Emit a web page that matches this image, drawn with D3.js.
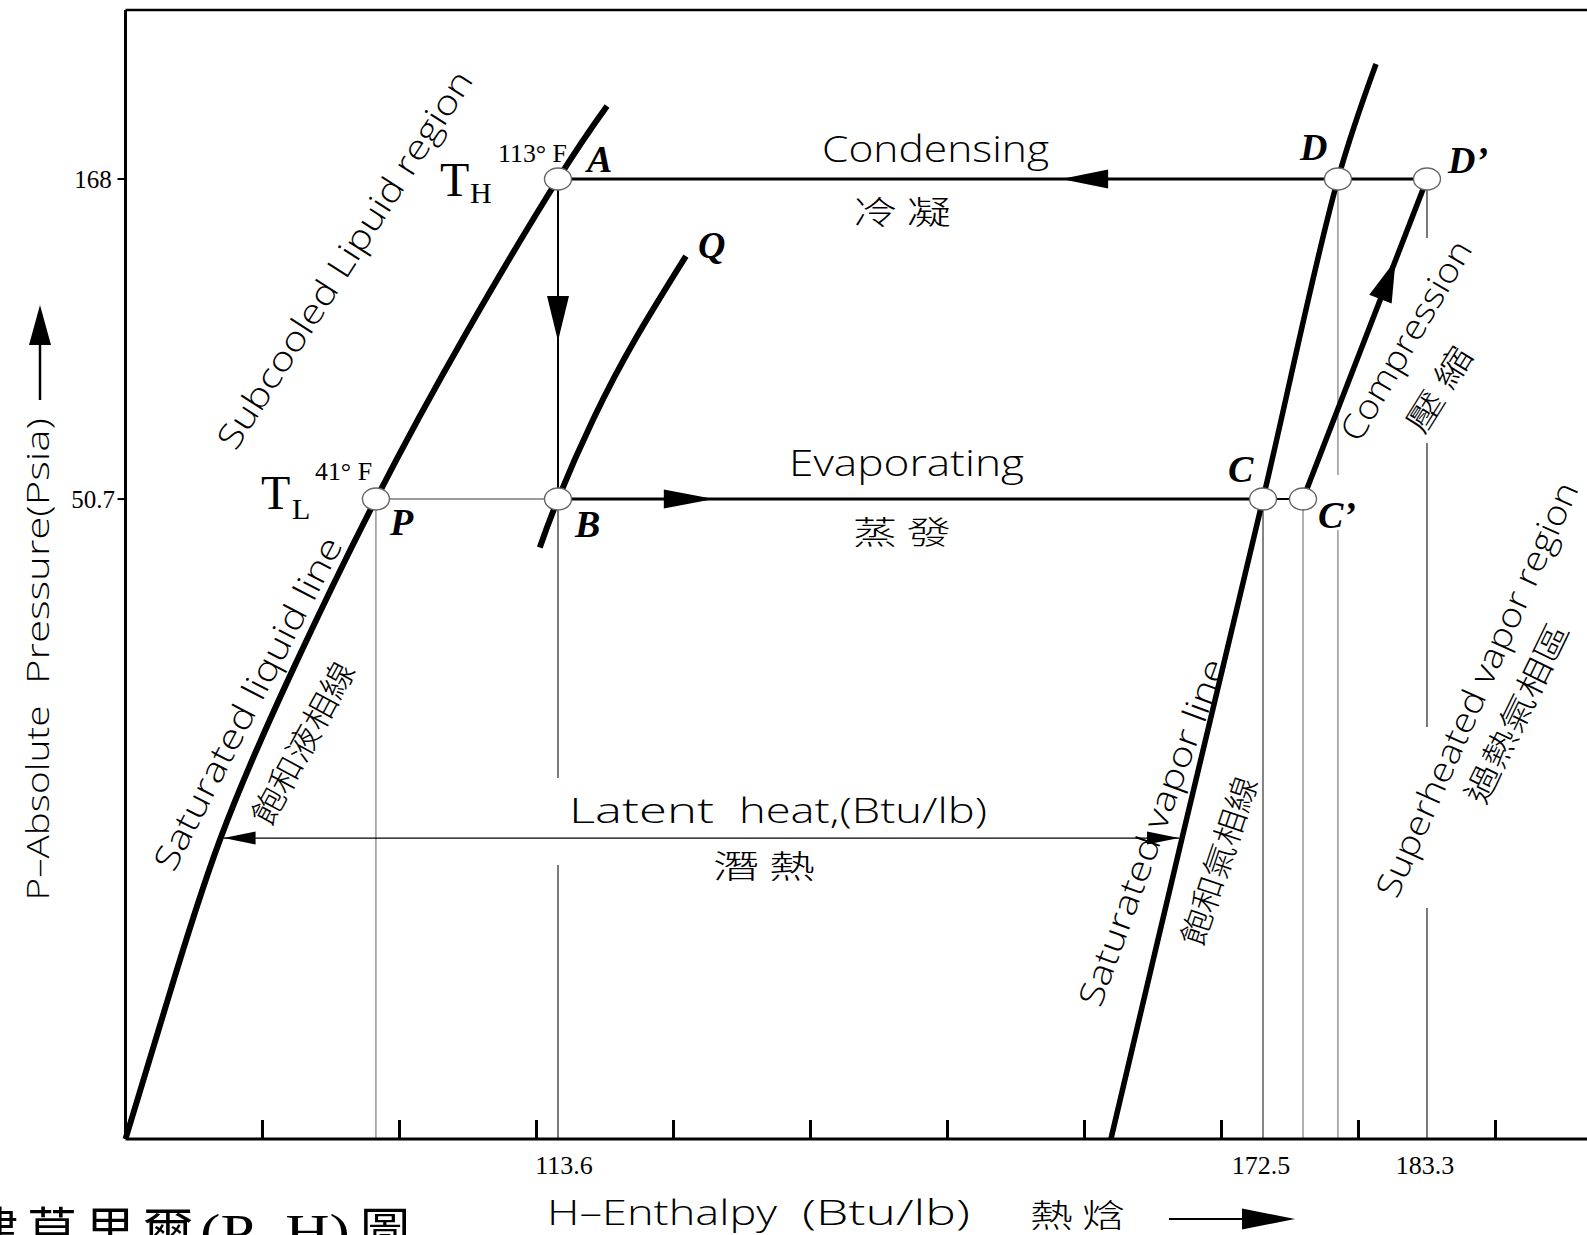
<!DOCTYPE html>
<html><head><meta charset="utf-8">
<script src="https://cdn.jsdelivr.net/npm/d3@7"></script>
<style>body{margin:0;background:#fff;overflow:hidden} svg{display:block}</style>
</head><body>
<svg id="c" width="1587" height="1235"></svg>
<script>
// ---------------- data ----------------
// x is in diagram enthalpy units (one unit per unlabeled tick); y is pressure in psia (log)
const xTickUnits = [1, 2, 3, 4, 5, 6, 7, 8, 9, 10];
const yTickValues = [168, 50.7];
const yTickLabels = ["168", "50.7"];
const enthalpyMarks = [3.157, 8.303, 9.500];
const enthalpyLabels = ["113.6", "172.5", "183.3"];

const stateNames = ["A", "B", "P", "C", "C'", "D", "D'"];
const stateH = [3.157, 3.157, 1.828, 8.303, 8.595, 8.850, 9.500];
const stateP = [168, 50.7, 50.7, 50.7, 50.7, 168, 168];

const satLiquidH = [0, 0.303, 0.694, 1.226, 1.828, 2.482, 3.157, 3.515];
const satLiquidP = [4.62, 7.71, 14.25, 26.9, 50.7, 94.0, 168, 220.8];
const qLineH = [3.024, 3.157, 3.415, 3.722, 4.091];
const qLineP = [42.3, 50.7, 68.4, 92.3, 125.9];
const satVaporH = [7.193, 7.712, 8.303, 8.850, 9.128];
const satVaporP = [4.62, 14.25, 50.7, 168, 258.4];
const latentP = 14.25;
const latentH = [0.694, 7.712];

// arrow tip positions as fraction along process segments
const arrowSegs = [["D'", "A"], ["A", "B"], ["B", "C"], ["C'", "D'"]];
const arrowFrac = [0.421, 0.506, 0.221, 0.747];

(function () {
// ---------------- scales ----------------
const PW = 1587;
const xLeft = 125.5, yBottom = 1139, yTop = 10;
const xs = d3.scaleLinear().domain([0, 10.668]).range([xLeft, PW]);
const ys = d3.scaleLog().domain([4.62, 316.3]).range([yBottom, yTop]);

const svg = d3.select("#c");
const g = svg.append("g");
const S = {};
stateNames.forEach((n, i) => S[n] = [xs(stateH[i]), ys(stateP[i])]);

function tri(tip, ang, L, Wd) {
  const bx = tip[0] - L * Math.cos(ang), by = tip[1] - L * Math.sin(ang);
  const nx = -Math.sin(ang) * Wd, ny = Math.cos(ang) * Wd;
  return `M${tip[0]},${tip[1]}L${bx + nx},${by + ny}L${bx - nx},${by - ny}Z`;
}
function seg(x1, y1, x2, y2, w, c) {
  g.append("line").attr("x1", x1).attr("y1", y1).attr("x2", x2).attr("y2", y2)
    .attr("stroke", c || "#000").attr("stroke-width", w);
}

// ---------------- thin construction lines ----------------
const thinGray = "#7a7a7a";
seg(S.P[0], S.P[1], S.P[0], yBottom, 1.2, thinGray);
seg(S.B[0], S.B[1], S.B[0], ys(latentP) - 60, 1.2, "#222");
seg(S.B[0], ys(latentP) + 27, S.B[0], yBottom, 1.2, "#222");
seg(S.C[0], S.C[1], S.C[0], yBottom, 1.2, "#333");
seg(S["C'"][0], S["C'"][1], S["C'"][0], yBottom, 1.2, thinGray);
seg(S.D[0], S.D[1], S.D[0], 475, 1.2, thinGray);
seg(S.D[0], 530, S.D[0], yBottom, 1.2, thinGray);
seg(S["D'"][0], S["D'"][1], S["D'"][0], 238, 1.2, "#222");
seg(S["D'"][0], 443, S["D'"][0], 727, 1.2, "#222");
seg(S["D'"][0], 908, S["D'"][0], yBottom, 1.2, "#222");
seg(S.P[0], S.P[1], S.B[0], S.B[1], 1.5, thinGray);

// ---------------- frame & axes ----------------
seg(xLeft, yTop, PW, yTop, 2.5);
seg(xLeft, yTop, xLeft, yBottom, 3);
seg(xLeft, yBottom, PW, yBottom, 3);
xTickUnits.forEach(u => seg(xs(u), yBottom, xs(u), yBottom - 19, 3));
yTickValues.forEach(v => seg(xLeft - 8, ys(v), xLeft, ys(v), 2));

const serif = "'Liberation Serif','DejaVu Serif',serif";
const sans = "'Open Sans','DejaVu Sans',sans-serif";
const cjk = "'Noto Sans CJK TC','Noto Sans CJK SC',sans-serif";

function txt(s, x, y, o) {
  const t = g.append("text").attr("x", x).attr("y", y).text(s)
    .attr("font-family", o.f || sans).attr("font-size", o.s || 30)
    .attr("font-weight", o.w || (o.f ? "normal" : 300))
    .attr("fill", "#000");
  if (o.a) t.attr("text-anchor", o.a);
  if (o.len) t.attr("textLength", o.len).attr("lengthAdjust", "spacingAndGlyphs");
  if (o.i) t.attr("font-style", "italic");
  if (o.ls) t.attr("letter-spacing", o.ls);
  return t;
}
function rtxt(s, cx, cy, ang, o) {
  const t = g.append("text").attr("transform", `translate(${cx},${cy}) rotate(${ang})`)
    .attr("text-anchor", "middle").attr("dominant-baseline", "central").text(s)
    .attr("font-family", o.f || sans).attr("font-size", o.s || 30)
    .attr("font-weight", o.w || 300).attr("fill", "#000");
  if (o.len) t.attr("textLength", o.len).attr("lengthAdjust", "spacingAndGlyphs");
  return t;
}

yTickValues.forEach((v, i) => txt(yTickLabels[i], 93, ys(v) + 9, { f: serif, s: 25, a: "middle" }));
enthalpyMarks.forEach((u, i) => txt(enthalpyLabels[i], xs(u) + (i === 0 ? 6 : -2), 1174, { f: serif, s: 26, a: "middle" }));

// ---------------- curves ----------------
const zip = (a, b) => a.map((v, i) => [v, b[i]]);
const lineN = d3.line().x(d => xs(d[0])).y(d => ys(d[1])).curve(d3.curveNatural);
const lineC = d3.line().x(d => xs(d[0])).y(d => ys(d[1])).curve(d3.curveCatmullRom.alpha(0.5));
g.append("path").attr("d", lineN(zip(satLiquidH, satLiquidP))).attr("fill", "none").attr("stroke", "#000").attr("stroke-width", 6);
g.append("path").attr("d", lineN(zip(qLineH, qLineP))).attr("fill", "none").attr("stroke", "#000").attr("stroke-width", 6);
g.append("path").attr("d", lineC(zip(satVaporH, satVaporP))).attr("fill", "none").attr("stroke", "#000").attr("stroke-width", 5.5);
seg(S["C'"][0], S["C'"][1], S["D'"][0], S["D'"][1], 5.5);

// ---------------- cycle lines ----------------
seg(S.A[0], S.A[1], S["D'"][0], S["D'"][1], 3);
seg(S.B[0], S.B[1], S.C[0], S.C[1], 3);
seg(S.C[0], S.C[1], S["C'"][0], S["C'"][1], 2);
seg(S.A[0], S.A[1], S.B[0], S.B[1], 2);

// process arrows
const arrowDims = [[47, 9.5], [45, 11], [50, 9.5], [42, 12]];
arrowSegs.forEach((sg, i) => {
  const p0 = S[sg[0]], p1 = S[sg[1]], f = arrowFrac[i];
  const tip = [p0[0] + (p1[0] - p0[0]) * f, p0[1] + (p1[1] - p0[1]) * f];
  const ang = Math.atan2(p1[1] - p0[1], p1[0] - p0[0]);
  g.append("path").attr("d", tri(tip, ang, arrowDims[i][0], arrowDims[i][1])).attr("fill", "#000");
});

// latent heat double arrow
const ly = ys(latentP), lx1 = xs(latentH[0]) + 3, lx2 = xs(latentH[1]) - 3;
seg(lx1, ly, lx2, ly, 1.3);
g.append("path").attr("d", tri([lx1, ly], Math.PI, 32, 6.5)).attr("fill", "#000");
g.append("path").attr("d", tri([lx2, ly], 0, 32, 6.5)).attr("fill", "#000");

// state circles
stateNames.forEach(n => {
  g.append("ellipse").attr("cx", S[n][0]).attr("cy", S[n][1]).attr("rx", 13.5).attr("ry", 11)
    .attr("fill", "#fff").attr("stroke", "#666").attr("stroke-width", 1.4);
});

// ---------------- labels ----------------
const bi = { f: serif, s: 38, w: "bold", i: true };
txt("A", S.A[0] + 29, S.A[1] - 7, bi);
txt("Q", xs(qLineH[4]) + 12, ys(qLineP[4]) + 2, bi);
txt("P", S.P[0] + 14, S.P[1] + 36, bi);
txt("B", S.B[0] + 17, S.B[1] + 38, bi);
txt("C", S.C[0] - 35, S.C[1] - 17, bi);
txt("C\u2019", S["C'"][0] + 15, S["C'"][1] + 29, bi);
txt("D", S.D[0] - 38, S.D[1] - 19, bi);
txt("D\u2019", S["D'"][0] + 21, S["D'"][1] - 6, bi);

txt("T", 440, 196, { f: serif, s: 48 });
txt("H", 470, 203, { f: serif, s: 30 });
txt("113\u00b0 F", 498, 162, { f: serif, s: 25, len: 69 });
txt("T", 261, 509, { f: serif, s: 48 });
txt("L", 292, 519, { f: serif, s: 30 });
txt("41\u00b0 F", 315, 480, { f: serif, s: 25, len: 57 });

txt("Condensing", 822, 162, { s: 36, len: 227 });
txt("冷 凝", 853, 224, { f: cjk, s: 32, len: 98, w: 300 });
txt("Evaporating", 789, 476, { s: 36, len: 235 });
txt("蒸 發", 853, 544, { f: cjk, s: 32, len: 98, w: 300 });
txt("Latent", 569, 823, { s: 35, len: 145 });
txt("heat,(Btu/lb)", 739, 823, { s: 35, len: 248 });
txt("潛 熱", 713, 878, { f: cjk, s: 32, len: 102, w: 300 });

rtxt("Subcooled Lipuid region", 344, 259, -57.3, { s: 34, len: 442 });
rtxt("Saturated liquid line", 247, 703, -62.7, { s: 34, len: 370 });
rtxt("飽和液相線", 301, 742, -61.6, { f: cjk, s: 32, len: 180 });
rtxt("Saturated vapor line", 1151, 832, -69.9, { s: 34, len: 367 });
rtxt("飽和氣相線", 1217, 860, -71.5, { f: cjk, s: 32, len: 176 });
rtxt("Compression", 1405, 340, -59.7, { s: 34, len: 226 });
rtxt("壓 縮", 1437, 388, -58, { f: cjk, s: 32, len: 95 });
rtxt("Superheated vapor region", 1476, 689, -66.1, { s: 34, len: 450 });
rtxt("過熱氣相區", 1515, 712, -64, { f: cjk, s: 32, len: 196 });

// axis titles
rtxt("Pressure(Psia)", 37, 551, -90, { s: 31, len: 266 });
rtxt("P\u2013Absolute", 37, 803, -90, { s: 31, len: 195 });
seg(40, 400, 40, 335, 2.5);
g.append("path").attr("d", tri([40, 305], -Math.PI / 2, 40, 11)).attr("fill", "#000");

txt("H\u2013Enthalpy", 547, 1225, { s: 35, len: 230 });
txt("(Btu/lb)", 802, 1225, { s: 35, len: 168 });
txt("熱 焓", 1030, 1227, { f: cjk, s: 32, len: 95, w: 300 });
seg(1169, 1219, 1250, 1219, 2);
g.append("path").attr("d", tri([1295, 1219], 0, 53, 10.5)).attr("fill", "#000");

// bottom-left caption (clipped by page edge, as in the original)
txt("建莫里爾", -31, 1249, { f: cjk, s: 50, ls: 8 });
txt("(P\u2013H)", 200, 1249, { f: serif, s: 50, len: 150 });
txt("圖", 360, 1249, { f: cjk, s: 50 });
})();
</script>
</body></html>
